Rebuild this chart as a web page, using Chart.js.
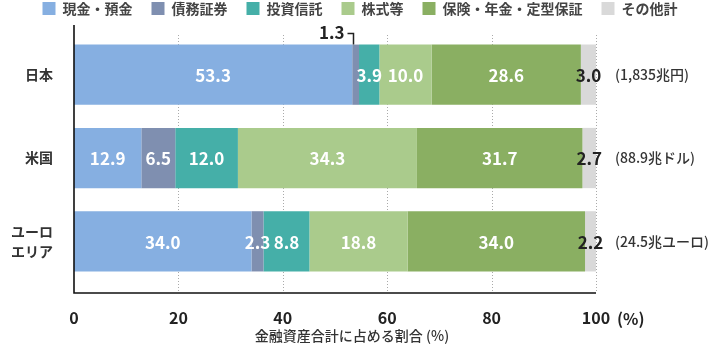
<!DOCTYPE html>
<html><head><meta charset="utf-8">
<script src="https://cdn.jsdelivr.net/npm/chart.js@4"></script>
<style>html,body{margin:0;padding:0;background:#fff}#wrap{width:720px;height:350px}</style>
</head><body><div id="wrap"><canvas id="c" width="720" height="350"></canvas></div>
<script>
// ---- data ----
const categories = ['日本', '米国', ['ユーロ', 'エリア']];
const seriesNames = ['現金・預金', '債務証券', '投資信託', '株式等', '保険・年金・定型保証', 'その他計'];
const cashDeposits = [53.3, 12.9, 34.0];
const debtSecurities = [1.3, 6.5, 2.3];
const investmentTrusts = [3.9, 12.0, 8.8];
const equities = [10.0, 34.3, 18.8];
const insurancePensions = [28.6, 31.7, 34.0];
const others = [3.0, 2.7, 2.2];
const totals = ['(1,835兆円)', '(88.9兆ドル)', '(24.5兆ユーロ)'];
const xTicks = [0, 20, 40, 60, 80, 100];
const axisTitle = '金融資産合計に占める割合 (%)';
const unitLabel = '(%)';

const colors = ['#86afe1', '#7f8fb0', '#45afa8', '#aacb8c', '#8aaf62', '#d9d9d9'];
const labelColors = ['#fff', '#fff', '#fff', '#fff', '#fff', '#222'];
const FONT = "'Noto Sans CJK JP', 'Noto Sans', sans-serif";

const seriesValues = [cashDeposits, debtSecurities, investmentTrusts, equities, insurancePensions, others];
const datasets = seriesNames.map((name, i) => ({
  label: name,
  data: seriesValues[i],
  backgroundColor: colors[i],
  borderWidth: 0,
  categoryPercentage: 1,
  barPercentage: 0.723
}));

const PLOT_TOP = 33, PLOT_BOTTOM_AXIS = 293, GRID_TOP = 35, AXIS_TOP = 25;

const decor = {
  id: 'decor',
  beforeDatasetsDraw(chart) {
    const ctx = chart.ctx, xs = chart.scales.x;
    ctx.save();
    ctx.strokeStyle = '#aaaaaa';
    ctx.lineWidth = 1;
    ctx.setLineDash([1, 2]);
    xTicks.forEach(v => {
      if (v === 0) return;
      const x = Math.round(xs.getPixelForValue(v)) + 0.5;
      ctx.beginPath(); ctx.moveTo(x, GRID_TOP); ctx.lineTo(x, PLOT_BOTTOM_AXIS); ctx.stroke();
    });
    ctx.restore();
  },
  afterDatasetsDraw(chart) {
    const ctx = chart.ctx, xs = chart.scales.x;
    ctx.save();
    // axes
    const x0 = xs.getPixelForValue(0);
    ctx.strokeStyle = '#111';
    ctx.lineWidth = 1.6;
    ctx.beginPath();
    ctx.moveTo(x0, AXIS_TOP); ctx.lineTo(x0, PLOT_BOTTOM_AXIS);
    ctx.lineTo(xs.getPixelForValue(100), PLOT_BOTTOM_AXIS);
    ctx.stroke();

    // data labels
    ctx.font = "bold 17px " + FONT;
    ctx.textAlign = 'center';
    ctx.textBaseline = 'middle';
    chart.data.datasets.forEach((ds, di) => {
      const meta = chart.getDatasetMeta(di);
      meta.data.forEach((el, i) => {
        const v = ds.data[i];
        const p = el.getProps(['x', 'y', 'base', 'height'], true);
        const right = Math.min(p.x, xs.getPixelForValue(100));
        const cx = (p.base + right) / 2;
        if (di === 1 && i === 0) {
          // callout for small segment
          const topY = p.y - p.height / 2;
          const lx = Math.round(cx) - 2.5;
          ctx.strokeStyle = '#222';
          ctx.lineWidth = 1.5;
          ctx.beginPath();
          ctx.moveTo(lx - 6, topY - 11); ctx.lineTo(lx, topY - 11); ctx.lineTo(lx, topY);
          ctx.stroke();
          ctx.fillStyle = '#222';
          ctx.textAlign = 'right';
          ctx.fillText(v.toFixed(1), lx - 9, topY - 12);
          ctx.textAlign = 'center';
          return;
        }
        ctx.fillStyle = labelColors[di];
        ctx.fillText(v.toFixed(1), cx, p.y + 1);
      });
    });

    // totals on the right
    ctx.font = "500 14px " + FONT;
    ctx.fillStyle = '#333';
    ctx.textAlign = 'left';
    const meta0 = chart.getDatasetMeta(0);
    totals.forEach((t, i) => {
      ctx.fillText(t, 615, meta0.data[i].y);
    });

    // unit after 100
    ctx.font = "bold 16px " + FONT;
    ctx.fillStyle = '#222';
    ctx.fillText(unitLabel, 617, 319);

    // axis title
    ctx.font = "500 14px " + FONT;
    ctx.textAlign = 'center';
    ctx.fillStyle = '#333';
    ctx.fillText(axisTitle, 352, 336);

    // legend
    ctx.font = "bold 14px " + FONT;
    const box = 13, gapText = 7, gapItem = 19;
    const widths = chart.data.datasets.map(d => ctx.measureText(d.label).width);
    const total = widths.reduce((a, w) => a + box + gapText + w, 0) + gapItem * (widths.length - 1);
    let x = (chart.width - total) / 2;
    ctx.textAlign = 'left';
    chart.data.datasets.forEach((d, i) => {
      ctx.fillStyle = d.backgroundColor;
      ctx.fillRect(x, 2, box, box);
      ctx.fillStyle = '#444';
      ctx.fillText(d.label, x + box + gapText, 9);
      x += box + gapText + widths[i] + gapItem;
    });
    ctx.restore();
  }
};

new Chart(document.getElementById('c'), {
  type: 'bar',
  data: { labels: categories, datasets },
  options: {
    indexAxis: 'y',
    responsive: false,
    animation: false,
    layout: { padding: { top: PLOT_TOP, right: 124, left: 0, bottom: 0 } },
    plugins: { legend: { display: false }, tooltip: { enabled: false } },
    scales: {
      x: {
        stacked: true,
        min: 0, max: 100,
        afterBuildTicks: s => { s.ticks = xTicks.map(v => ({ value: v })); },
        afterFit: s => { s.height = 67; },
        grid: { display: false },
        border: { display: false },
        ticks: { padding: 17, color: '#222', font: { family: FONT, size: 16, weight: 'bold' } }
      },
      y: {
        stacked: true,
        afterFit: s => { s.width = 74; },
        grid: { display: false },
        border: { display: false },
        ticks: { padding: 13, color: '#333', font: { family: FONT, size: 14, weight: 'bold', lineHeight: 1.43 } }
      }
    }
  },
  plugins: [decor]
});
</script></body></html>
